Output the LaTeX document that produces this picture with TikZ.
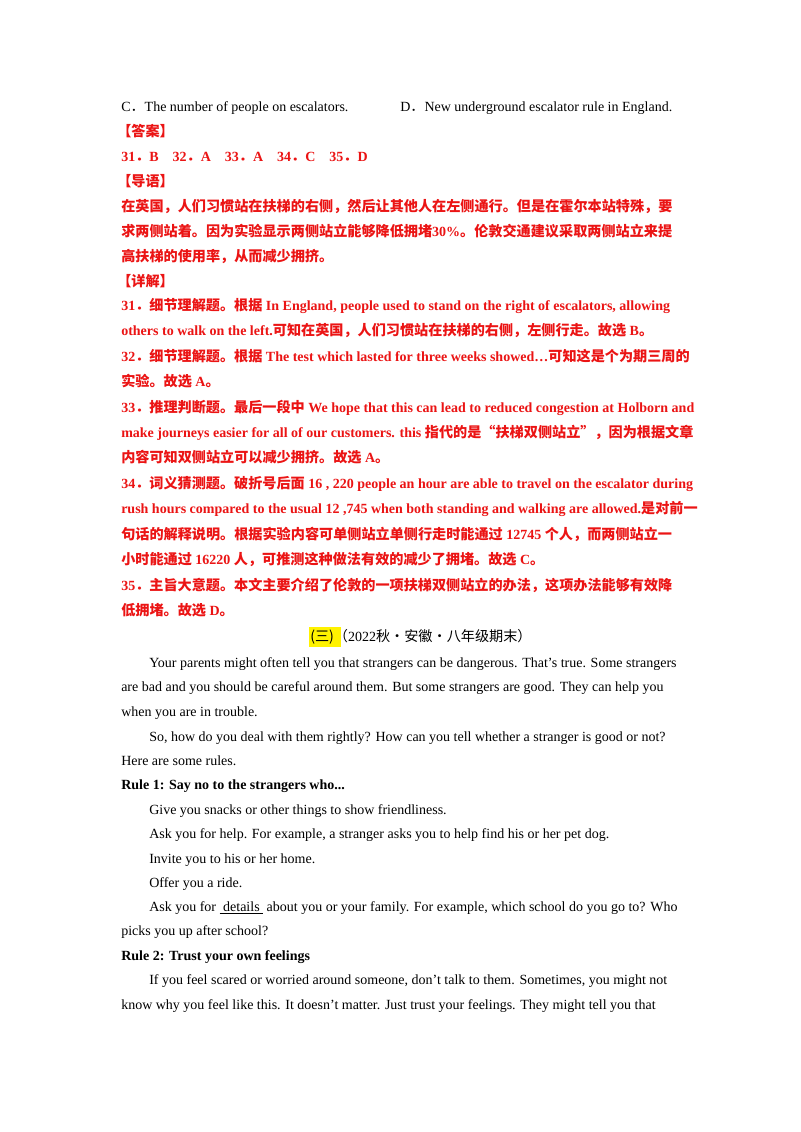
\documentclass[tikz,border=0pt]{standalone}
\usepackage{fontspec}
\setmainfont{Liberation Serif}
\newfontfamily\cjk{Noto Sans CJK SC}
\newcommand\zh[1]{{\cjk\fontsize{10.6pt}{12pt}\selectfont #1}}
\definecolor{ans}{RGB}{235,20,20}
\begin{document}
\begin{tikzpicture}[x=0.75pt,y=-0.75pt,
  ln/.style={anchor=base west,inner sep=0pt,font=\fontsize{10.5pt}{12pt}\selectfont},
  rl/.style={ln,text=ans,font=\fontsize{10.5pt}{12pt}\selectfont\bfseries}]
\useasboundingbox (0,0) rectangle (800,1132);
\fill[white] (0,0) rectangle (800,1132);
\node[ln] (l1) at (121,111) {C\zh{．}The number of people on escalators.};
\node[ln] (l1b) at (400,111) {D\zh{．}New underground escalator rule in England.};
\node[rl] (l2) at (117,136) {\zh{【答案】}};
\node[rl] (l3) at (121,161) {31\zh{．}B\quad 32\zh{．}A\quad 33\zh{．}A\quad 34\zh{．}C\quad 35\zh{．}D};
\node[rl] (l4) at (117,186) {\zh{【导语】}};
\node[rl] (l5) at (121,211) {\zh{在英国，人们习惯站在扶梯的右侧，然后让其他人在左侧通行。但是在霍尔本站特殊，要}};
\node[rl] (l6) at (121,236) {\zh{求两侧站着。因为实验显示两侧站立能够降低拥堵}30\%\zh{。伦敦交通建议采取两侧站立来提}};
\node[rl] (l7) at (121,261) {\zh{高扶梯的使用率，从而减少拥挤。}};
\node[rl] (l8) at (117,286) {\zh{【详解】}};
\node[rl] (l9) at (121,310) {31\zh{．细节理解题。根据} In England, people used to stand on the right of escalators, allowing};
\node[rl] (l10) at (121,335) {others to walk on the left.\zh{可知在英国，人们习惯站在扶梯的右侧，左侧行走。故选} B\zh{。}};
\node[rl] (l11) at (121,361) {32\zh{．细节理解题。根据} The test which lasted for three weeks showed…\zh{可知这是个为期三周的}};
\node[rl] (l12) at (121,386) {\zh{实验。故选} A\zh{。}};
\node[rl] (l13) at (121,412) {33\zh{．推理判断题。最后一段中} We hope that this can lead to reduced congestion at Holborn and};
\node[rl] (l14) at (121,437) {make journeys easier for all of our customers. this \zh{指代的是“扶梯双侧站立”，因为根据文章}};
\node[rl] (l15) at (121,462) {\zh{内容可知双侧站立可以减少拥挤。故选} A\zh{。}};
\node[rl] (l16) at (121,488) {34\zh{．词义猜测题。破折号后面} 16 , 220 people an hour are able to travel on the escalator during};
\node[rl] (l17) at (121,513) {rush hours compared to the usual 12 ,745 when both standing and walking are allowed.\zh{是对前一}};
\node[rl] (l18) at (121,539) {\zh{句话的解释说明。根据实验内容可单侧站立单侧行走时能通过} 12745 \zh{个人，而两侧站立一}};
\node[rl] (l19) at (121,564) {\zh{小时能通过} 16220 \zh{人，可推测这种做法有效的减少了拥堵。故选} C\zh{。}};
\node[rl] (l20) at (121,590) {35\zh{．主旨大意题。本文主要介绍了伦敦的一项扶梯双侧站立的办法，这项办法能够有效降}};
\node[rl] (l21) at (121,615) {\zh{低拥堵。故选} D\zh{。}};
\fill[yellow] (309,627) rectangle (341,647);
\node[ln] (l22) at (310,641) {\zh{(三)（}2022\zh{秋·安徽·八年级期末）}};
\node[ln] (l23) at (149,667) {Your parents might often tell you that strangers can be dangerous. That’s true. Some strangers};
\node[ln] (l24) at (121,691) {are bad and you should be careful around them. But some strangers are good. They can help you};
\node[ln] (l25) at (121,716) {when you are in trouble.};
\node[ln] (l26) at (149,741) {So, how do you deal with them rightly? How can you tell whether a stranger is good or not?};
\node[ln] (l27) at (121,765) {Here are some rules.};
\node[ln,font=\fontsize{10.5pt}{12pt}\selectfont\bfseries] (l28) at (121,789) {Rule 1: Say no to the strangers who...};
\node[ln] (l29) at (149,814) {Give you snacks or other things to show friendliness.};
\node[ln] (l30) at (149,838) {Ask you for help. For example, a stranger asks you to help find his or her pet dog.};
\node[ln] (l31) at (149,863) {Invite you to his or her home.};
\node[ln] (l32) at (149,887) {Offer you a ride.};
\node[ln] (l33) at (149,911) {Ask you for \underline{\ details\ } about you or your family. For example, which school do you go to? Who};
\node[ln] (l34) at (121,935) {picks you up after school?};
\node[ln,font=\fontsize{10.5pt}{12pt}\selectfont\bfseries] (l35) at (121,960) {Rule 2: Trust your own feelings};
\node[ln] (l36) at (149,984) {If you feel scared or worried around someone, don’t talk to them. Sometimes, you might not};
\node[ln] (l37) at (121,1009) {know why you feel like this. It doesn’t matter. Just trust your feelings. They might tell you that};
\end{tikzpicture}
\end{document}
